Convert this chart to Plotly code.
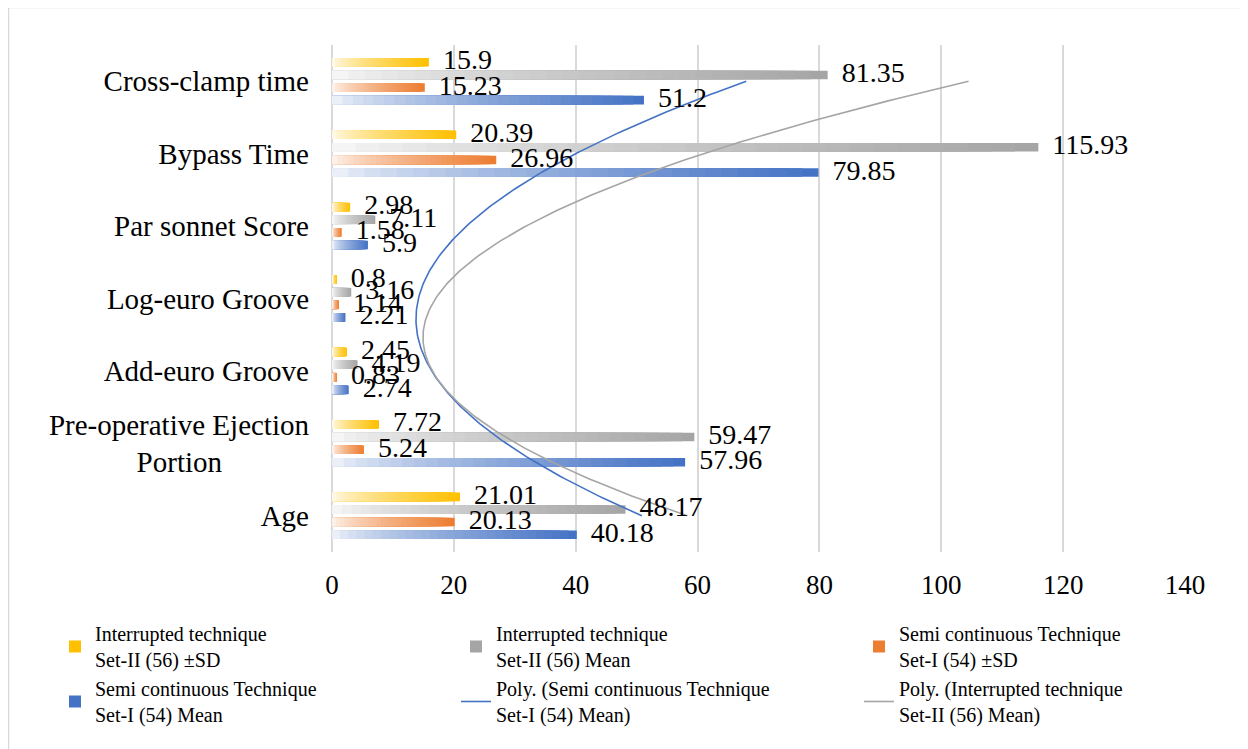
import numpy as np
import plotly.graph_objects as go

# ---------------- data ----------------
categories = ["Age", "Pre-operative Ejection Portion", "Add-euro Groove",
              "Log-euro Groove", "Par sonnet Score", "Bypass Time", "Cross-clamp time"]
tick_labels = ["Age",
               "Pre-operative Ejection<br>Portion" + "\u00a0" * 12,
               "Add-euro Groove", "Log-euro Groove", "Par sonnet Score",
               "Bypass Time", "Cross-clamp time"]
x_ticks = [0, 20, 40, 60, 80, 100, 120, 140]

interrupted_sd = [21.01, 7.72, 2.45, 0.8, 2.98, 20.39, 15.9]
interrupted_mean = [48.17, 59.47, 4.19, 3.16, 7.11, 115.93, 81.35]
semi_sd = [20.13, 5.24, 0.83, 1.14, 1.58, 26.96, 15.23]
semi_mean = [40.18, 57.96, 2.74, 2.21, 5.9, 79.85, 51.2]

series_names = ["Interrupted technique<br>Set-II (56) ±SD",
                "Interrupted technique<br>Set-II (56) Mean",
                "Semi continuous Technique<br>Set-I (54) ±SD",
                "Semi continuous Technique<br>Set-I (54) Mean"]
series_values = [interrupted_sd, interrupted_mean, semi_sd, semi_mean]
series_colors = ["#FFC000", "#A5A5A5", "#ED7D31", "#4472C4"]
series_legend = ["legend", "legend2", "legend3", "legend"]
series_rank = [1, 1, 1, 2]

trend_names = ["Poly. (Semi continuous Technique<br>Set-I (54) Mean)",
               "Poly. (Interrupted technique<br>Set-II (56) Mean)"]
trend_sources = [semi_mean, interrupted_mean]
trend_colors = ["#4472C4", "#A5A5A5"]
trend_legend = ["legend2", "legend3"]

# ---------------- style ----------------
FONT = "Liberation Serif, Times New Roman, serif"
SLOT = 0.174
BAR_W = 0.118
N_STEPS = 30


def hex_rgb(h):
    h = h.lstrip("#")
    return tuple(int(h[i:i + 2], 16) for i in (0, 2, 4))


def mix(color, t):
    r, g, b = hex_rgb(color)
    return "rgb(%d,%d,%d)" % (round(255 + (r - 255) * t),
                              round(255 + (g - 255) * t),
                              round(255 + (b - 255) * t))


fig = go.Figure()
idx = np.arange(len(categories))

for k, (name, vals, col) in enumerate(zip(series_names, series_values, series_colors)):
    vals = np.asarray(vals, dtype=float)
    center = (1.5 - k) * SLOT
    for j in range(N_STEPS):
        f_hi = 1 - j / N_STEPS
        f_mid = f_hi - 0.5 / N_STEPS
        t = 0.06 + 0.94 * f_mid ** 0.7
        fig.add_trace(go.Bar(
            orientation="h", x=vals * f_hi, y=idx,
            width=BAR_W, offset=center - BAR_W / 2,
            marker=dict(color=mix(col, t) if j else col, line=dict(width=0)),
            name=name, legendgroup="s%d" % k, showlegend=(j == 0),
            legend=series_legend[k], legendrank=series_rank[k],
            hoverinfo="skip" if j else "x+name",
        ))

# polynomial (order 2) trendlines fitted to the category sequence
yy = np.linspace(0, len(categories) - 1, 200)
for m, (name, src, col) in enumerate(zip(trend_names, trend_sources, trend_colors)):
    coef = np.polyfit(idx + 1, np.asarray(src, dtype=float), 2)
    fig.add_trace(go.Scatter(
        x=np.polyval(coef, yy + 1), y=yy, mode="lines",
        line=dict(color=col, width=1.6), name=name,
        legend=trend_legend[m], legendrank=2, legendgroup="t%d" % m,
        hoverinfo="skip",
    ))

# data labels
for k, vals in enumerate(series_values):
    center = (1.5 - k) * SLOT
    fig.add_trace(go.Scatter(
        x=vals, y=idx + center, mode="text",
        text=["\u00a0\u00a0" + f"{v:g}" for v in vals],
        textposition="middle right",
        textfont=dict(family=FONT, size=28, color="#000000"),
        showlegend=False, hoverinfo="skip", cliponaxis=False,
    ))

W, H = 1248, 749
OFF = 8  # page margin of the host document
L, T = 332 - OFF, 45 - OFF
R = W - (1185 - OFF)
B = H - (552 - OFF)
pw, ph = W - L - R, H - T - B


def px_x(p):
    return (p - OFF - L) / pw


def px_y(p):
    return (H - B - (p - OFF)) / ph


legend_common = dict(
    orientation="v", xanchor="left", yanchor="top",
    font=dict(family=FONT, size=20, color="#000000"),
    bgcolor="rgba(0,0,0,0)", tracegroupgap=7, itemwidth=30,
    traceorder="normal",
)

fig.update_layout(
    width=W, height=H,
    margin=dict(l=L, r=R, t=T, b=B),
    paper_bgcolor="white", plot_bgcolor="white",
    barmode="overlay",
    font=dict(family=FONT, color="#000000"),
    xaxis=dict(range=[0, 140], tickvals=x_ticks, showgrid=True,
               gridcolor="#d9d9d9", gridwidth=2, zeroline=True,
               zerolinecolor="#d9d9d9", zerolinewidth=2, showline=False,
               ticks="", tickfont=dict(family=FONT, size=27, color="#000000"),
               ticklabelstandoff=14, fixedrange=True),
    yaxis=dict(range=[-0.5, 6.5], tickvals=list(idx), ticktext=tick_labels,
               showgrid=False, zeroline=False, showline=False, ticks="",
               tickfont=dict(family=FONT, size=29, color="#000000"),
               ticklabelstandoff=22, fixedrange=True),
    legend=dict(x=px_x(55), y=px_y(614), **legend_common),
    legend2=dict(x=px_x(456), y=px_y(614), **legend_common),
    legend3=dict(x=px_x(859), y=px_y(614), **legend_common),
    shapes=[dict(type="rect", xref="paper", yref="paper",
                 x0=px_x(8.5), x1=px_x(1270), y0=px_y(7.5), y1=px_y(780),
                 line=dict(color="#d9d9d9", width=1.5), layer="below")],
    showlegend=True,
)

fig.write_html("out.html")
